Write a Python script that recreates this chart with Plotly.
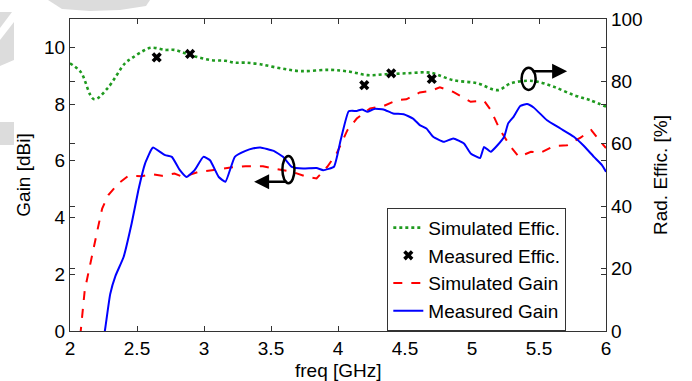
import plotly.graph_objects as go

# ---------------- data ----------------
sim_eff_f = [2.0, 2.08, 2.18, 2.28, 2.41, 2.46, 2.535, 2.605, 2.71, 2.78, 2.86, 2.96, 3.06, 3.16,
             3.23, 3.31, 3.42, 3.57, 3.72, 3.94, 4.09, 4.22, 4.36, 4.51, 4.66, 4.71, 4.86, 5.04,
             5.19, 5.29, 5.41, 5.49, 5.61, 5.76, 5.88, 6.0]
sim_eff = [85.8, 83.0, 74.3, 77.8, 85.8, 87.4, 89.5, 90.8, 90.1, 90.1, 89.0, 87.7, 86.8, 86.6,
           86.0, 86.0, 85.5, 84.2, 83.3, 83.7, 83.1, 82.0, 82.3, 82.6, 82.9, 82.6, 80.4, 79.4,
           77.2, 79.4, 80.2, 79.9, 78.3, 75.6, 74.0, 71.9]

meas_eff_f = [2.647, 2.896, 4.196, 4.397, 4.70]
meas_eff = [87.7, 88.8, 78.8, 82.6, 80.8]

sim_gain_f = [2.06, 2.08, 2.11, 2.16, 2.21, 2.24, 2.286, 2.36, 2.435, 2.535, 2.61, 2.685, 2.78,
              2.846, 2.96, 3.06, 3.21, 3.31, 3.44, 3.52, 3.66, 3.77, 3.84, 3.92, 3.99, 4.07,
              4.14, 4.24, 4.34, 4.44, 4.51, 4.61, 4.69, 4.76, 4.86, 4.99, 5.09, 5.14, 5.21,
              5.29, 5.35, 5.44, 5.51, 5.61, 5.71, 5.81, 5.89, 5.95, 6.0]
sim_gain = [-0.8, 0.0, 1.44, 2.61, 3.67, 4.32, 4.79, 5.2, 5.47, 5.46, 5.53, 5.47, 5.55,
            5.43, 5.61, 5.67, 5.77, 5.81, 5.81, 5.73, 5.61, 5.43, 5.38, 5.79, 6.26, 7.08,
            7.49, 7.85, 7.93, 8.14, 8.17, 8.41, 8.46, 8.59, 8.43, 8.08, 8.12, 7.79, 7.08,
            6.49, 6.14, 6.32, 6.28, 6.52, 6.55, 6.82, 7.08, 6.73, 6.45]

meas_gain_f = [2.24, 2.26, 2.30, 2.34, 2.40, 2.46, 2.51, 2.56, 2.605, 2.62, 2.71, 2.76, 2.82,
               2.87, 2.93, 2.995, 3.045, 3.11, 3.16, 3.23, 3.31, 3.37, 3.42, 3.52, 3.59, 3.655,
               3.74, 3.84, 3.89, 3.97, 4.02, 4.08, 4.14, 4.18, 4.22, 4.27, 4.34, 4.41, 4.49,
               4.56, 4.61, 4.66, 4.71, 4.79, 4.86, 4.94, 4.99, 5.06, 5.09, 5.14, 5.19, 5.24,
               5.27, 5.31, 5.36, 5.41, 5.46, 5.56, 5.66, 5.76, 5.83, 5.91, 5.97, 6.0]
meas_gain = [-0.5, 0.0, 1.3, 1.95, 2.61, 3.79, 4.96, 5.9, 6.38, 6.47, 6.2, 6.14, 5.67,
             5.43, 5.67, 6.14, 6.02, 5.43, 5.26, 6.14, 6.35, 6.44, 6.47, 6.35, 6.14, 5.79,
             5.73, 5.75, 5.67, 5.79, 6.73, 7.75, 7.76, 7.81, 7.73, 7.83, 7.81, 7.67, 7.64,
             7.49, 7.26, 7.14, 6.85, 6.67, 6.79, 6.61, 6.26, 6.1, 6.49, 6.32, 6.55, 6.85,
             7.32, 7.55, 7.93, 8.0, 7.88, 7.43, 7.14, 6.85, 6.55, 6.14, 5.85, 5.61]

x_ticks = [2, 2.5, 3, 3.5, 4, 4.5, 5, 5.5, 6]
x_tick_labels = ["2", "2.5", "3", "3.5", "4", "4.5", "5", "5.5", "6"]
gain_ticks = [0, 2, 4, 6, 8, 10]
eff_ticks = [0, 20, 40, 60, 80, 100]

FONT = "Liberation Sans, Arial, sans-serif"
FS = 19

fig = go.Figure()
fig.add_trace(go.Scatter(x=sim_eff_f, y=sim_eff, name="Simulated Effic.", yaxis="y2",
                         mode="lines", line=dict(color="#1f9a1f", width=2.6, dash="dot", shape="spline")))
fig.add_trace(go.Scatter(x=meas_eff_f, y=meas_eff, name="Measured Effic.", yaxis="y2",
                         mode="markers", marker=dict(symbol="x", color="black", size=9,
                                                     line=dict(width=0))))
fig.add_trace(go.Scatter(x=sim_gain_f, y=sim_gain, name="Simulated Gain", yaxis="y",
                         mode="lines", line=dict(color="#ff0000", width=2, dash="dash")))
fig.add_trace(go.Scatter(x=meas_gain_f, y=meas_gain, name="Measured Gain", yaxis="y",
                         mode="lines", line=dict(color="#0000ff", width=2, shape="spline", smoothing=0.4)))

axis_common = dict(showgrid=False, zeroline=False, ticks="inside", ticklen=5,
                   tickcolor="#333", linecolor="#333", linewidth=1.2, showline=True,
                   automargin=False,
                   tickfont=dict(family=FONT, size=FS, color="black"))

fig.update_layout(
    width=692, height=381,
    margin=dict(l=70, r=86, t=19, b=50),
    paper_bgcolor="white", plot_bgcolor="rgba(0,0,0,0)",
    font=dict(family=FONT, size=FS, color="black"),
    xaxis=dict(range=[2, 6], tickvals=x_ticks, ticktext=x_tick_labels, mirror="ticks",
               ticklabelstandoff=0, **axis_common),
    yaxis=dict(range=[0, 11], tickvals=gain_ticks, mirror="ticks",
               title=dict(text="Gain [dBi]", font=dict(size=FS), standoff=8), **axis_common),
    yaxis2=dict(range=[0, 100], tickvals=eff_ticks, overlaying="y", side="right", mirror="ticks",
                title=dict(text="Rad. Effic. [%]", font=dict(size=FS), standoff=12), **axis_common),
    legend=dict(x=0.592, y=0.395, xanchor="left", yanchor="top", bgcolor="white",
                bordercolor="#333", borderwidth=1, font=dict(size=FS),
                tracegroupgap=0, itemwidth=30),
    showlegend=True,
)

# x-axis title placed as text below the tick labels
fig.add_annotation(text="freq [GHz]", x=0.5, y=0, xref="paper", yref="paper",
                   xanchor="center", yanchor="top", yshift=-28, showarrow=False, borderpad=0,
                   font=dict(family=FONT, size=FS, color="black"))

# light gray watermark fragments in the top-left margin (paper coords)
def px(xp):
    return (xp - 70) / 536.0

def py(yp):
    return (331 - yp) / 312.0

GRAY = "#dcdcdc"
wm_paths = [
    [(48, 0), (150, 0), (146, 6), (120, 10), (90, 11), (62, 9)],
    [(0, 12), (12, 12), (0, 28)],
    [(0, 40), (14, 22), (14, 60), (0, 66)],
    [(0, 122), (14, 122), (14, 145), (0, 145)],
]
for poly in wm_paths:
    d = "M " + " L ".join(f"{px(a):.4f},{py(b):.4f}" for a, b in poly) + " Z"
    fig.add_shape(type="path", path=d, xref="paper", yref="paper",
                  fillcolor=GRAY, line=dict(width=0), layer="below")

# direction indicators (ellipse + arrow)
fig.add_shape(type="circle", xref="x", yref="y", x0=3.585, x1=3.675, y0=5.21, y1=6.17,
              line=dict(color="black", width=2.5))
fig.add_annotation(x=3.374, y=5.26, ax=3.63, ay=5.26, xref="x", yref="y", axref="x", ayref="y",
                   showarrow=True, arrowhead=2, arrowsize=1.2, arrowwidth=2.5, arrowcolor="black", text="")
fig.add_shape(type="circle", xref="x", yref="y", x0=5.37, x1=5.475, y0=8.5, y1=9.28,
              line=dict(color="black", width=2.5))
fig.add_annotation(x=5.71, y=9.16, ax=5.44, ay=9.16, xref="x", yref="y", axref="x", ayref="y",
                   showarrow=True, arrowhead=2, arrowsize=1.2, arrowwidth=2.5, arrowcolor="black", text="")

fig.write_html("out.html")
